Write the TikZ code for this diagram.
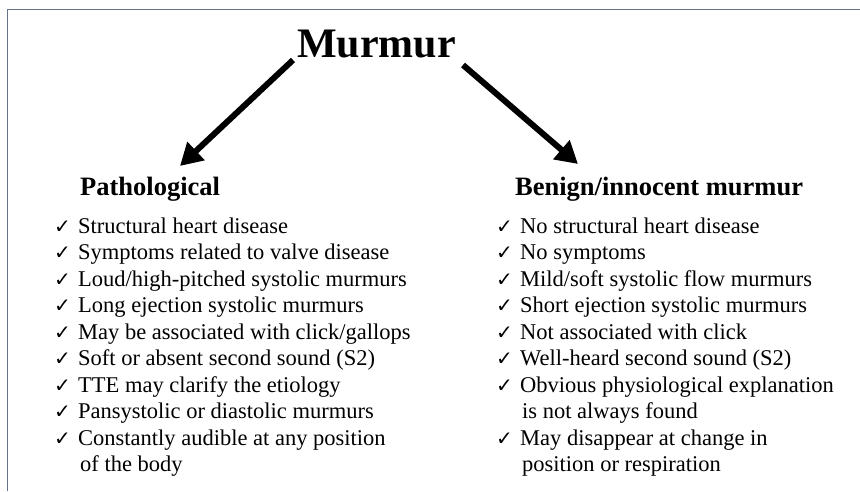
\documentclass[tikz,border=0pt]{standalone}
\usepackage{fontspec}
\setmainfont{Liberation Serif}
\newfontfamily\symfont{DejaVu Sans}
\usetikzlibrary{arrows.meta}
\definecolor{framegray}{RGB}{100,115,135}
\tikzset{
  titletext/.style={inner sep=0pt, anchor=base west, font=\fontsize{42pt}{48pt}\selectfont\bfseries},
  headtext/.style={inner sep=0pt, anchor=base west, font=\fontsize{26.5pt}{30pt}\selectfont\bfseries},
  itemtext/.style={inner sep=0pt, anchor=base west, font=\fontsize{22.5pt}{26.5pt}\selectfont},
  checkmark/.style={inner sep=0pt, anchor=base west, font=\symfont\fontsize{20pt}{22pt}\selectfont},
  bigarrow/.style={line width=6pt, -{Triangle[length=22pt,width=24pt]}},
  frameline/.style={draw=framegray, line width=1.6pt}
}
\newcommand{\ck}{✓}
\begin{document}
\begin{tikzpicture}[x=1pt,y=-1pt]
\useasboundingbox (0,0) rectangle (860,491);
% frame (open at right and bottom)
\draw[frameline] (7.5,491) -- (7.5,9.5) -- (860,9.5);
% title
\node[titletext] (title) at (297,57) {Murmur};
% arrows
\coordinate (la) at (293,60);
\coordinate (lb) at (180,166);
\coordinate (ra) at (463,65);
\coordinate (rb) at (578,164);
\draw[bigarrow] (la) -- (lb);
\draw[bigarrow] (ra) -- (rb);
% headings
\node[headtext] (path) at (80,195) {Pathological};
\node[headtext] (benign) at (515,195) {Benign/innocent murmur};
% left items
\foreach \i/\t in {1/{Structural heart disease},
                   2/{Symptoms related to valve disease},
                   3/{Loud/high-pitched systolic murmurs},
                   4/{Long ejection systolic murmurs},
                   5/{May be associated with click/gallops},
                   6/{Soft or absent second sound (S2)},
                   7/{TTE may clarify the etiology},
                   8/{Pansystolic or diastolic murmurs},
                   9/{Constantly audible at any position}}{
  \node[checkmark] (lc\i) at (54,233+26.5*\i-26.5) {\ck};
  \node[itemtext] (l\i) at (78,233+26.5*\i-26.5) {\t};
}
\node[itemtext] (l10) at (80,233+26.5*9) {of the body};
% right items
\foreach \i/\t in {1/{No structural heart disease},
                   2/{No symptoms},
                   3/{Mild/soft systolic flow murmurs},
                   4/{Short ejection systolic murmurs},
                   5/{Not associated with click},
                   6/{Well-heard second sound (S2)},
                   7/{Obvious physiological explanation}}{
  \node[checkmark] (rc\i) at (496,233+26.5*\i-26.5) {\ck};
  \node[itemtext] (r\i) at (520,233+26.5*\i-26.5) {\t};
}
\node[itemtext] (r8) at (522,233+26.5*7) {is not always found};
\node[checkmark] (rc9) at (496,233+26.5*8) {\ck};
\node[itemtext] (r9) at (520,233+26.5*8) {May disappear at change in};
\node[itemtext] (r10) at (522,233+26.5*9) {position or respiration};
\end{tikzpicture}
\end{document}
